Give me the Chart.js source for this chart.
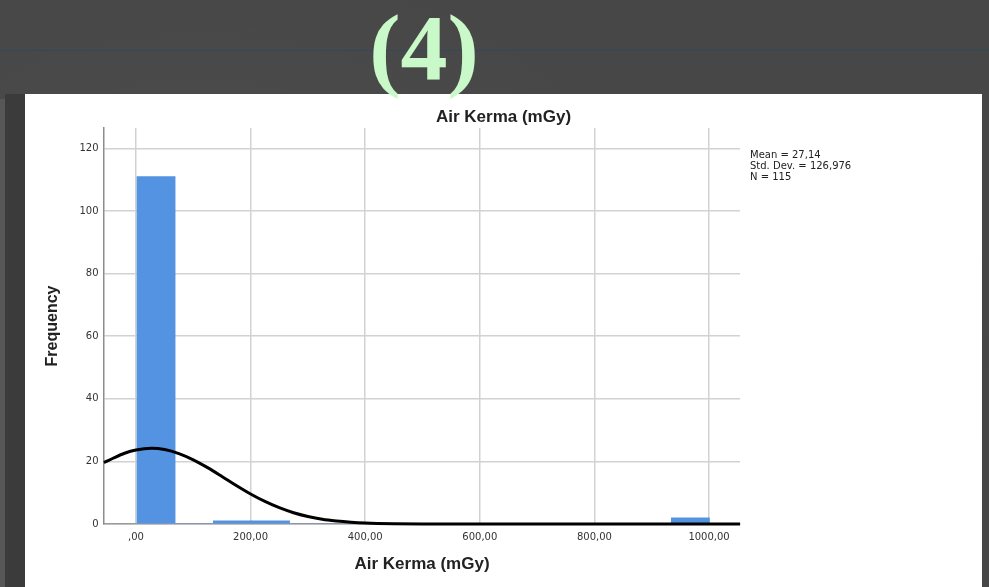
<!DOCTYPE html>
<html>
<head>
<meta charset="utf-8">
<script src="https://cdn.jsdelivr.net/npm/chart.js@4.4.1/dist/chart.umd.min.js"></script>
<style>
  html, body { margin: 0; padding: 0; }
  body {
    width: 989px; height: 587px; overflow: hidden; position: relative;
    background-color: #474747;
    background-image:
      radial-gradient(ellipse at 20% 30%, rgba(255,255,255,0.025), rgba(255,255,255,0) 40%),
      radial-gradient(ellipse at 70% 60%, rgba(0,0,0,0.03), rgba(0,0,0,0) 45%);
  }
  .rule { position: absolute; left: 0; top: 50px; width: 989px; height: 1px; background: #2f4a5f; }
  .edge-a { position: absolute; left: 0; top: 99px; width: 5px; height: 488px; background: #575757; }
  .edge-b { position: absolute; left: 5px; top: 94px; width: 20px; height: 493px; background: #3b3b3b; }
  #panel { position: absolute; left: 25px; top: 94px; width: 957px; height: 493px; background: #ffffff; }
  #panel canvas { display: block; }
  #badge {
    position: absolute; left: 324px; top: 0px; width: 200px; text-align: center;
    font-family: "Liberation Serif", "DejaVu Serif", serif; font-weight: bold;
    font-size: 94px; line-height: 94px; color: #c9f9c9; z-index: 2;
  }
</style>
</head>
<body>
<div class="rule"></div>
<div class="edge-a"></div>
<div class="edge-b"></div>
<div id="panel"><canvas id="hist" width="957" height="493"></canvas></div>
<div id="badge">(4)</div>
<script>
// Histogram bins (centre of each bin, mGy) and their counts
const binCentres = [35.0, 101.6, 168.2, 234.8, 301.4, 368.0, 434.6, 501.2, 567.8, 634.4, 701.0, 767.6, 834.2, 900.8, 967.4];
const frequencies = [111, 0, 1, 1, 0, 0, 0, 0, 0, 0, 0, 0, 0, 0, 2];

// Fitted normal curve, sampled along the axis
const curveX = [-55.8, -40, -20, 0, 27, 50, 75, 100, 125, 150, 175, 200, 225, 250, 275, 300, 325, 350, 375, 400, 450, 500, 600, 1054];
const curveY = [19.6, 21.0, 22.6, 23.65, 24.2, 23.8, 22.5, 20.5, 18.0, 15.2, 12.3, 9.6, 7.2, 5.2, 3.6, 2.4, 1.5, 0.95, 0.57, 0.32, 0.09, 0.02, 0, 0];

// Axis ticks
const xTickValues = [0, 200, 400, 600, 800, 1000];
const xTickLabels = [',00', '200,00', '400,00', '600,00', '800,00', '1000,00'];
const yTickValues = [0, 20, 40, 60, 80, 100, 120];
const yTickLabels = ['0', '20', '40', '60', '80', '100', '120'];
const xRange = [-55.8, 1054];
const yRange = [0, 126.5];

// Summary statistics shown beside the plot
const statsLines = ['Mean = 27,14', 'Std. Dev. = 126,976', 'N = 115'];

const titleText = 'Air Kerma (mGy)';
const xTitle = 'Air Kerma (mGy)';
const yTitle = 'Frequency';

const statsPlugin = {
  id: 'statsBlock',
  afterDraw(chart) {
    const ctx = chart.ctx;
    const area = chart.chartArea;
    ctx.save();
    ctx.font = '10px "DejaVu Sans", sans-serif';
    ctx.fillStyle = '#222222';
    ctx.textAlign = 'left';
    ctx.textBaseline = 'alphabetic';
    statsLines.forEach((line, i) => {
      ctx.fillText(line, area.right + 10, area.top + 30.3 + i * 10.6);
    });
    ctx.restore();
  }
};

const gridColour = '#d2d2d2';
const titleFont = { family: '"Liberation Sans", Arial, sans-serif', size: 17, weight: 'bold', lineHeight: 1.2 };
const tickFont = { family: '"DejaVu Sans", sans-serif', size: 10, lineHeight: 1.2 };

new Chart(document.getElementById('hist'), {
  type: 'bar',
  data: {
    datasets: [
      {
        type: 'line',
        data: curveX.map((x, i) => ({ x: x, y: curveY[i] })),
        borderColor: '#000000',
        borderWidth: 3,
        pointRadius: 0,
        cubicInterpolationMode: 'monotone',
        fill: false,
        clip: false,
        order: 0
      },
      {
        type: 'bar',
        data: binCentres.map((x, i) => ({ x: x, y: frequencies[i] })),
        backgroundColor: '#5393e1',
        borderWidth: 0,
        barPercentage: 1,
        categoryPercentage: 1,
        order: 1
      }
    ]
  },
  options: {
    responsive: false,
    animation: false,
    devicePixelRatio: 1,
    layout: { padding: 0 },
    plugins: {
      legend: { display: false },
      tooltip: { enabled: false },
      title: {
        display: true,
        text: titleText,
        fullSize: true,
        color: '#222222',
        font: titleFont,
        padding: { top: 12.8, bottom: 0.8 }
      }
    },
    scales: {
      x: {
        type: 'linear',
        min: xRange[0],
        max: xRange[1],
        offset: false,
        afterBuildTicks(scale) { scale.ticks = xTickValues.map(v => ({ value: v })); },
        afterFit(scale) { scale.height = 63; },
        ticks: {
          autoSkip: false,
          maxRotation: 0,
          padding: 7,
          color: '#333333',
          font: tickFont,
          callback: (value, index) => xTickLabels[index]
        },
        grid: { display: true, offset: false, color: gridColour, lineWidth: 1.5, drawTicks: false },
        border: { display: true, color: '#9a9a9a', width: 1.5 },
        title: {
          display: true,
          text: xTitle,
          color: '#222222',
          font: titleFont,
          padding: { top: 0, bottom: 12.3 }
        }
      },
      y: {
        type: 'linear',
        position: 'left',
        min: yRange[0],
        max: yRange[1],
        afterBuildTicks(scale) { scale.ticks = yTickValues.map(v => ({ value: v })); },
        afterFit(scale) { scale.width = 79; },
        ticks: {
          padding: 5.5,
          color: '#333333',
          font: tickFont,
          callback: (value, index) => yTickLabels[index]
        },
        grid: { display: true, color: gridColour, lineWidth: 1.5, drawTicks: false },
        border: { display: true, color: '#8c8c8c', width: 1.5 },
        title: {
          display: true,
          text: yTitle,
          color: '#222222',
          font: { family: '"Liberation Sans", Arial, sans-serif', size: 16, weight: 'bold', lineHeight: 1.2 },
          padding: { top: 18.4, bottom: 0 }
        }
      },
      // empty right-hand axis that reserves the margin holding the statistics
      margin: {
        type: 'linear',
        position: 'right',
        display: true,
        min: yRange[0],
        max: yRange[1],
        afterFit(scale) { scale.width = 242; },
        ticks: { display: false },
        grid: { display: false, drawOnChartArea: false },
        border: { display: false }
      }
    }
  },
  plugins: [statsPlugin]
});
</script>
</body>
</html>
